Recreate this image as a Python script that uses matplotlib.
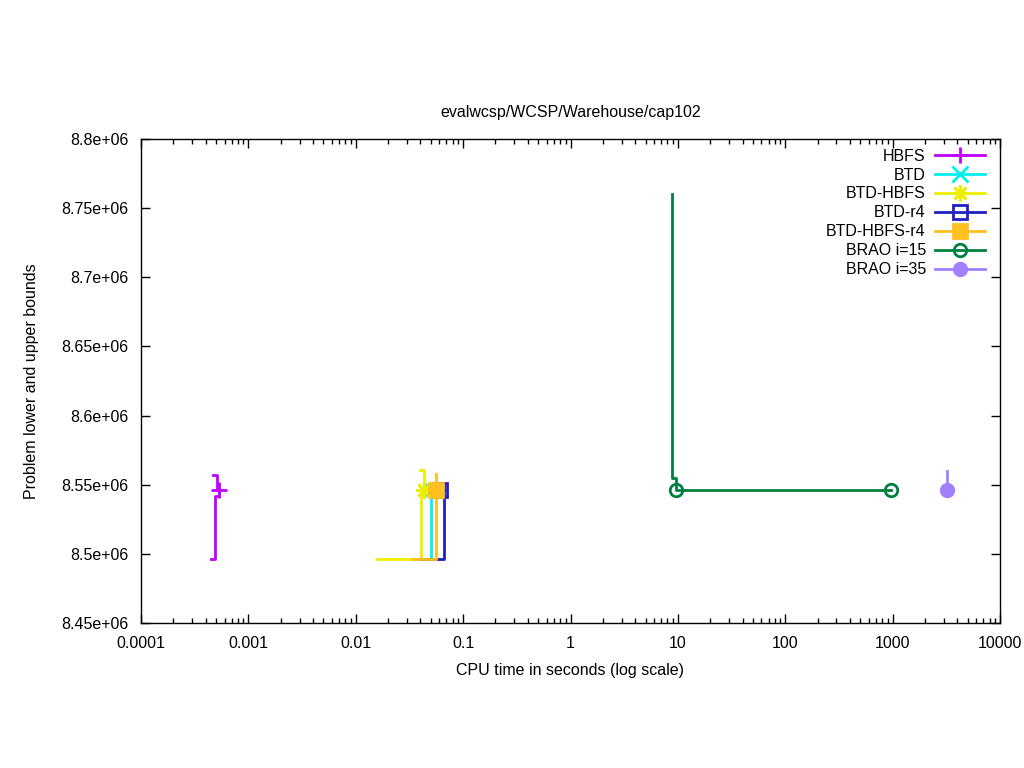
import matplotlib
matplotlib.use("Agg")
import matplotlib.pyplot as plt
from matplotlib.ticker import FuncFormatter, LogLocator, NullFormatter

plt.rcParams['font.family'] = ['Liberation Sans', 'DejaVu Sans']

title = "evalwcsp/WCSP/Warehouse/cap102"
xlabel = "CPU time in seconds (log scale)"
ylabel = "Problem lower and upper bounds"

names = ["HBFS", "BTD", "BTD-HBFS", "BTD-r4", "BTD-HBFS-r4", "BRAO i=15", "BRAO i=35"]
colors = ["#c000ff", "#00f0f0", "#eeee00", "#2020c0", "#ffc020", "#008040", "#a080ff"]
markers = ["+", "x", (8, 2, 0), "s", "s", "o", "o"]
filled = [True, True, True, False, True, False, True]

# upper bound trajectories (time, value)
ub_t = {
    "HBFS": [0.000468, 0.000510, 0.000532],
    "BTD": [0.0501, 0.0501],
    "BTD-HBFS": [0.0396, 0.0432],
    "BTD-r4": [0.0662, 0.0662],
    "BTD-HBFS-r4": [0.0558, 0.0558],
    "BRAO i=15": [8.8, 8.8, 9.57, 962],
    "BRAO i=35": [3200, 3200],
}
ub_v = {
    "HBFS": [8.557e6, 8.5462e6, 8.5462e6],
    "BTD": [8.5462e6, 8.5462e6],
    "BTD-HBFS": [8.5605e6, 8.5462e6],
    "BTD-r4": [8.5505e6, 8.5462e6],
    "BTD-HBFS-r4": [8.5578e6, 8.5462e6],
    "BRAO i=15": [8.7602e6, 8.5549e6, 8.5462e6, 8.5462e6],
    "BRAO i=35": [8.5600e6, 8.5462e6],
}
# lower bound trajectories (time, value)
lb_t = {
    "HBFS": [0.000449, 0.000489, 0.000532],
    "BTD": [0.0400, 0.0501],
    "BTD-HBFS": [0.01573, 0.0405],
    "BTD-r4": [0.0400, 0.0662],
    "BTD-HBFS-r4": [0.0333, 0.0558],
    "BRAO i=15": [],
    "BRAO i=35": [],
}
lb_v = {
    "HBFS": [8.4963e6, 8.5420e6, 8.5462e6],
    "BTD": [8.4963e6, 8.5462e6],
    "BTD-HBFS": [8.4963e6, 8.5462e6],
    "BTD-r4": [8.4963e6, 8.5462e6],
    "BTD-HBFS-r4": [8.4963e6, 8.5462e6],
    "BRAO i=15": [],
    "BRAO i=35": [],
}
# marker points
mk_t = {
    "HBFS": [0.000532],
    "BTD": [0.0501],
    "BTD-HBFS": [0.0432],
    "BTD-r4": [0.0610],
    "BTD-HBFS-r4": [0.0558],
    "BRAO i=15": [9.57, 962],
    "BRAO i=35": [3200],
}
mk_v = {
    "HBFS": [8.5462e6],
    "BTD": [8.5462e6],
    "BTD-HBFS": [8.5462e6],
    "BTD-r4": [8.5462e6],
    "BTD-HBFS-r4": [8.5462e6],
    "BRAO i=15": [8.5462e6, 8.5462e6],
    "BRAO i=35": [8.5462e6],
}

FS = 11.5
fig = plt.figure(figsize=(10.24, 7.68), dpi=100)
ax = fig.add_axes([141/1024, 1-623/768, (1000-141)/1024, (623-139)/768])

lw = 2.0
handles = []
for name, c, m, f in zip(names, colors, markers, filled):
    mfc = c if f else "none"
    ms = 10 if m in ("s", "o") else 12
    if m == "o":
        ms = 9
    if ub_t[name]:
        ax.plot(ub_t[name], ub_v[name], drawstyle="steps-post", color=c, lw=lw)
    if lb_t[name]:
        ax.plot(lb_t[name], lb_v[name], drawstyle="steps-post", color=c, lw=lw)
    ax.plot(mk_t[name], mk_v[name], linestyle="none", marker=m, color=c,
            mfc=mfc, mec=c, ms=ms, mew=2)
    h, = ax.plot([], [], color=c, lw=lw, marker=m, mfc=mfc, mec=c, ms=ms, mew=2,
                 label=name)
    handles.append(h)

ax.set_xscale("log")
ax.set_xlim(1e-4, 1e4)
ax.set_ylim(8.45e6, 8.8e6)
ax.set_yticks([8.45e6 + 0.05e6 * i for i in range(8)])
fmt = FuncFormatter(lambda v, p: "%g" % v)
ax.xaxis.set_major_locator(LogLocator(base=10, numticks=20))
ax.xaxis.set_minor_locator(LogLocator(base=10, subs=range(2, 10), numticks=20))
ax.xaxis.set_minor_formatter(NullFormatter())
ax.xaxis.set_major_formatter(fmt)
ax.yaxis.set_major_formatter(fmt)
ax.tick_params(which="major", direction="in", length=6.5, width=1,
               top=True, right=True, labelsize=FS, pad=9, colors="black")
ax.tick_params(which="minor", direction="in", length=3.5, width=1,
               top=True, right=True)
for s in ax.spines.values():
    s.set_linewidth(1)

ax.set_title(title, fontsize=FS, pad=16)
ax.set_xlabel(xlabel, fontsize=FS, labelpad=9)
ax.set_ylabel(ylabel, fontsize=FS, labelpad=16)

ax.legend(handles=handles, loc="upper right", bbox_to_anchor=(0.988, 0.99),
          frameon=False, markerfirst=False, fontsize=FS, handlelength=3.1,
          handletextpad=0.6, labelspacing=0.245, borderaxespad=0, borderpad=0.3)

fig.savefig("out.png", dpi=100)
